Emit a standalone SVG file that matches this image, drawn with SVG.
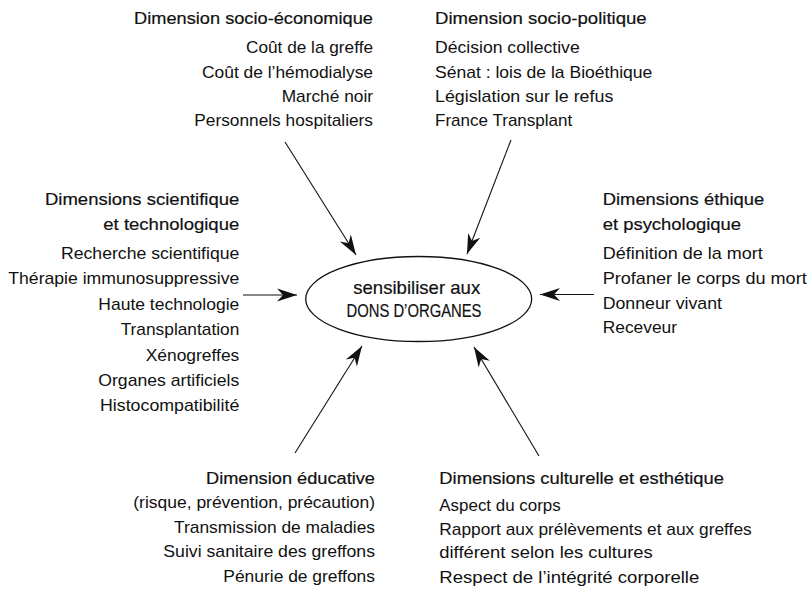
<svg xmlns="http://www.w3.org/2000/svg" width="808" height="598" viewBox="0 0 808 598">
<style>
text{font-family:"Liberation Sans",Arial,sans-serif;font-size:17px;fill:#111}
.h{stroke:#111;stroke-width:0.2}
.e{text-anchor:end}
.c{text-anchor:middle;font-size:19px;stroke:#111;stroke-width:0.2}
.ln{stroke:#111;stroke-width:1.1;fill:none}
</style>
<defs>
<marker id="ah" viewBox="-21 -8 22 16" markerWidth="22" markerHeight="16" refX="0" refY="0" orient="auto" markerUnits="userSpaceOnUse">
<path d="M0,0 L-20,-6.5 L-14,0 L-20,6.5 Z" fill="#111"/>
</marker>
</defs>
<rect width="808" height="598" fill="#fff"/>
<g id="connectors">
<line class="ln" x1="285" y1="142" x2="356" y2="255" marker-end="url(#ah)"/>
<line class="ln" x1="511" y1="140" x2="467" y2="254" marker-end="url(#ah)"/>
<line class="ln" x1="243" y1="295" x2="297" y2="295" marker-end="url(#ah)"/>
<line class="ln" x1="594" y1="294.5" x2="540" y2="294.5" marker-end="url(#ah)"/>
<line class="ln" x1="295" y1="453" x2="362" y2="346" marker-end="url(#ah)"/>
<line class="ln" x1="539" y1="456" x2="474" y2="347" marker-end="url(#ah)"/>
</g>
<g id="center">
<ellipse cx="418.7" cy="299" rx="113" ry="42.5" fill="none" stroke="#111" stroke-width="1.3"/>
<text class="c" x="416.7" y="294" textLength="127" lengthAdjust="spacingAndGlyphs">sensibiliser aux</text>
<text class="c" x="414" y="317" textLength="135" lengthAdjust="spacingAndGlyphs">DONS D’ORGANES</text>
</g>
<g id="socio-economique" class="e">
<text class="h e" x="373" y="24" textLength="239" lengthAdjust="spacingAndGlyphs">Dimension socio-économique</text>
<text class="e" x="373" y="53.3" textLength="127" lengthAdjust="spacingAndGlyphs">Coût de la greffe</text>
<text class="e" x="373" y="77.7" textLength="171" lengthAdjust="spacingAndGlyphs">Coût de l’hémodialyse</text>
<text class="e" x="373" y="101.7" textLength="91.3" lengthAdjust="spacingAndGlyphs">Marché noir</text>
<text class="e" x="373" y="126" textLength="178.7" lengthAdjust="spacingAndGlyphs">Personnels hospitaliers</text>
</g>
<g id="socio-politique">
<text class="h" x="435" y="24" textLength="211.7" lengthAdjust="spacingAndGlyphs">Dimension socio-politique</text>
<text x="435" y="53.3" textLength="144.7" lengthAdjust="spacingAndGlyphs">Décision collective</text>
<text x="435" y="77.7" textLength="217.3" lengthAdjust="spacingAndGlyphs">Sénat : lois de la Bioéthique</text>
<text x="435" y="101.7" textLength="178.3" lengthAdjust="spacingAndGlyphs">Législation sur le refus</text>
<text x="435" y="126" textLength="137.3" lengthAdjust="spacingAndGlyphs">France Transplant</text>
</g>
<g id="scientifique">
<text class="h e" x="239.3" y="205" textLength="194.3" lengthAdjust="spacingAndGlyphs">Dimensions scientifique</text>
<text class="h e" x="239.3" y="230" textLength="136" lengthAdjust="spacingAndGlyphs">et technologique</text>
<text class="e" x="239.3" y="259" textLength="178.3" lengthAdjust="spacingAndGlyphs">Recherche scientifique</text>
<text class="e" x="239.3" y="284.3" textLength="231" lengthAdjust="spacingAndGlyphs">Thérapie immunosuppressive</text>
<text class="e" x="239.3" y="309.5" textLength="141" lengthAdjust="spacingAndGlyphs">Haute technologie</text>
<text class="e" x="239.3" y="335" textLength="118.6" lengthAdjust="spacingAndGlyphs">Transplantation</text>
<text class="e" x="239.3" y="360.5" textLength="93.6" lengthAdjust="spacingAndGlyphs">Xénogreffes</text>
<text class="e" x="239.3" y="385.8" textLength="141" lengthAdjust="spacingAndGlyphs">Organes artificiels</text>
<text class="e" x="239.3" y="411" textLength="139.3" lengthAdjust="spacingAndGlyphs">Histocompatibilité</text>
</g>
<g id="ethique">
<text class="h" x="602.7" y="205" textLength="161.6" lengthAdjust="spacingAndGlyphs">Dimensions éthique</text>
<text class="h" x="602.7" y="230" textLength="138.3" lengthAdjust="spacingAndGlyphs">et psychologique</text>
<text x="602.7" y="259" textLength="160" lengthAdjust="spacingAndGlyphs">Définition de la mort</text>
<text x="602.7" y="284.3" textLength="204" lengthAdjust="spacingAndGlyphs">Profaner le corps du mort</text>
<text x="602.7" y="308.5" textLength="119.3" lengthAdjust="spacingAndGlyphs">Donneur vivant</text>
<text x="602.7" y="333.3" textLength="74.3" lengthAdjust="spacingAndGlyphs">Receveur</text>
</g>
<g id="educative">
<text class="h e" x="375" y="484" textLength="169" lengthAdjust="spacingAndGlyphs">Dimension éducative</text>
<text class="e" x="375" y="507.5" textLength="241.7" lengthAdjust="spacingAndGlyphs">(risque, prévention, précaution)</text>
<text class="e" x="375" y="533.3" textLength="201" lengthAdjust="spacingAndGlyphs">Transmission de maladies</text>
<text class="e" x="375" y="557.3" textLength="211.7" lengthAdjust="spacingAndGlyphs">Suivi sanitaire des greffons</text>
<text class="e" x="375" y="581.7" textLength="151.7" lengthAdjust="spacingAndGlyphs">Pénurie de greffons</text>
</g>
<g id="culturelle">
<text class="h" x="439.3" y="484" textLength="284.7" lengthAdjust="spacingAndGlyphs">Dimensions culturelle et esthétique</text>
<text x="439.3" y="510.7" textLength="121.4" lengthAdjust="spacingAndGlyphs">Aspect du corps</text>
<text x="439.3" y="535" textLength="312.4" lengthAdjust="spacingAndGlyphs">Rapport aux prélèvements et aux greffes</text>
<text x="439.3" y="558.3" textLength="213.4" lengthAdjust="spacingAndGlyphs">différent selon les cultures</text>
<text x="439.3" y="583.3" textLength="260" lengthAdjust="spacingAndGlyphs">Respect de l’intégrité corporelle</text>
</g>
</svg>
